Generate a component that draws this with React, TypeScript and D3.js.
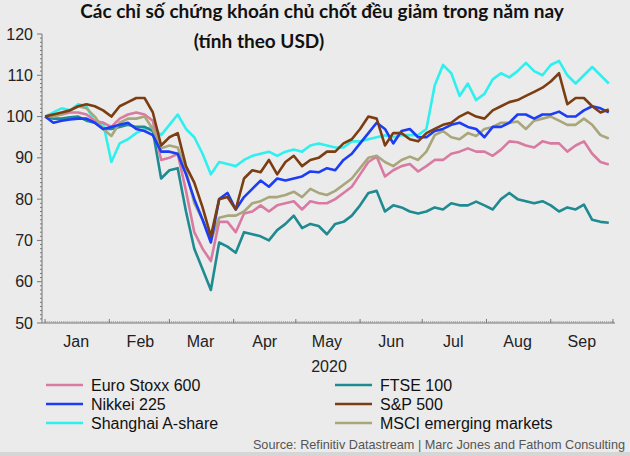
import React from "react";
import * as d3 from "d3";

const dates: string[] = [
  "2020-01-01","2020-01-05","2020-01-09","2020-01-13","2020-01-17","2020-01-21","2020-01-25","2020-01-29",
  "2020-02-02","2020-02-06","2020-02-10","2020-02-14","2020-02-18","2020-02-22","2020-02-26",
  "2020-03-01","2020-03-05","2020-03-09","2020-03-13","2020-03-17","2020-03-21","2020-03-25","2020-03-29",
  "2020-04-02","2020-04-06","2020-04-10","2020-04-14","2020-04-18","2020-04-22","2020-04-26","2020-04-30",
  "2020-05-04","2020-05-08","2020-05-12","2020-05-16","2020-05-20","2020-05-24","2020-05-28",
  "2020-06-01","2020-06-05","2020-06-09","2020-06-13","2020-06-17","2020-06-21","2020-06-25","2020-06-29",
  "2020-07-03","2020-07-07","2020-07-11","2020-07-15","2020-07-19","2020-07-23","2020-07-27","2020-07-31",
  "2020-08-04","2020-08-08","2020-08-12","2020-08-16","2020-08-20","2020-08-24","2020-08-28",
  "2020-09-01","2020-09-05","2020-09-09","2020-09-13","2020-09-17","2020-09-21","2020-09-25","2020-09-29",
];

const euroStoxx600 = [
  100,100.5,100.5,101,101,100.5,99,98.5,97.5,99.5,100.5,101,100.5,99,89.5,
  90,91,82,72,68,65,74.5,74.5,72,76.5,77,78.5,77,78.5,79,79.5,
  77.5,79.5,79,79,80,81.5,83,86,89,90.3,85.5,87,88,88.5,86.7,
  88,89.5,89.5,91,91.5,92.3,91.5,91.5,90.5,92,94,93.8,93,92.5,94,
  93.5,93.5,91.5,93,94,91,89,88.4,
];
const nikkei225 = [
  100,98.5,99,99.3,99.5,99.5,98.5,97,97.5,98,98.5,97,96.5,95.5,91.5,
  91.5,91,86,80,75,69.5,80,81.5,77.5,80.5,82.5,84.5,83,85,84.5,85,
  85.5,86.7,86.5,87.5,87,89.5,91,93.5,96,98.5,97,93.5,96.5,97,95,
  95,96.5,97,98,98.5,97.5,97,95,97.5,97.5,98.5,100.5,100.5,99.5,100.5,
  100.5,101.2,100,100,101.5,102.5,102,101,
];
const shanghaiA = [
  100,101,102,101.5,103,102.5,98.5,98.5,89,93.5,94.5,96,97,97.5,95.5,
  98,100.5,97,95,91,86,89,88.5,88,89.5,90.5,91,91.5,90.5,91.5,92,
  91.5,93,93.5,93,92.5,92.5,94,94,94.5,95,95.5,95,95.5,95.5,95.5,
  97,107.5,112.5,110.5,105,108,104,105.5,109,110.5,109.5,111,113,111,110,
  112.5,113.5,110,108,110,112,110,108,
];
const ftse100 = [
  100,99.5,99.5,99.8,100,99,98.5,97,97,97.5,98,97.5,97.5,96.5,85,
  87,87.5,77,68,63,58,69.5,68.5,67,72,71.5,71,70,72.5,74,76,
  73,74,73.5,71.5,74,74.5,76,78.5,81.5,82,77,78.5,78,77,76.5,
  77,78,77.5,79,78.5,78.5,79.4,78.5,77.5,80,81.5,80,79.5,79,79.5,
  78.5,77,78,77.5,78.7,75,74.5,74.3,
];
const sp500 = [
  100,100.5,101,101.5,102.5,103,102.5,101.5,100,102.5,103.5,104.5,104.5,101,93,
  95,96,88,84,78,71,80,80.5,77.5,85,87,86.5,89.5,86,89,90.5,
  88,89.5,90,91.5,91.5,93.5,94.5,97,100,99.5,93,96,96,94.5,94,
  96,97,98,98.5,100,101,100,99.5,101.5,102.5,103.5,104,105,106,107,
  108.5,110.5,103,104.5,104.5,102.5,101,101.7,
];
const msciEM = [
  100,100,100.5,101.5,102.5,102,100,97,95.3,98.5,99.5,99.5,100,97,92.3,
  93,92.5,87,79,75,70,75.5,76,76,77,79,79.5,80.5,80.5,81,81.8,
  80.5,82.5,81.5,81,82,83.5,85,87.5,90,90.5,89,88,89.5,90.3,89.5,
  91.5,95.5,96.5,95,94.5,96,95.3,97,97.5,98.5,98.5,98.8,97,99,99.5,
  100,99,98,98,99.5,98,95.5,94.7,
];

const seriesNames = ["Euro Stoxx 600","Nikkei 225","Shanghai A-share","FTSE 100","S&P 500","MSCI emerging markets"];
const seriesValues = [euroStoxx600, nikkei225, shanghaiA, ftse100, sp500, msciEM];
const seriesColors = ["#d97ba1","#1c3cf5","#2ff0ee","#1f8b90","#7b3e12","#a9a67c"];
const drawOrder = [2, 3, 0, 5, 1, 4];

const monthLabels = ["Jan","Feb","Mar","Apr","May","Jun","Jul","Aug","Sep"];
const yTicks = [50, 60, 70, 80, 90, 100, 110, 120];
const yearLabel = "2020";
const title = "Các chỉ số chứng khoán chủ chốt đều giảm trong năm nay";
const subtitle = "(tính theo USD)";
const source = "Source: Refinitiv Datastream | Marc Jones and Fathom Consulting";

const W = 630, H = 456;
const parse = d3.timeParse("%Y-%m-%d");

export default function App() {
  const x = d3.scaleTime()
    .domain([new Date(2019, 11, 31), new Date(2020, 9, 2)])
    .range([43, 615]);
  const y = d3.scaleLinear().domain([50, 120]).range([323, 34]);
  const xDates = dates.map((d) => parse(d) as Date);
  const line = d3.line<number>()
    .x((_, i) => x(xDates[i]))
    .y((v) => y(v));

  const minorY = d3.range(50, 121, 1);
  const days = d3.timeDay.range(new Date(2020, 0, 1), new Date(2020, 9, 2));
  const monthStarts = d3.timeMonth.range(new Date(2020, 0, 1), new Date(2020, 9, 2));
  const axisFont = "'Liberation Sans', Arial, sans-serif";
  const titleFont = "Lato, 'Open Sans', sans-serif";

  return (
    <svg width={W} height={H} style={{ position: "absolute", left: 0, top: 0, background: "#ebebeb" }}>
      <rect x={0} y={0} width={W} height={H} fill="#ebebeb" />
      <rect x={0} y={452} width={W} height={4} fill="#d6d6d6" />
      <text x={322} y={18} textAnchor="middle" fontFamily={titleFont} fontWeight={700} fontSize={19} fill="#111">{title}</text>
      <text x={259} y={48} textAnchor="middle" fontFamily={titleFont} fontWeight={700} fontSize={19} fill="#111">{subtitle}</text>

      {/* y axis */}
      <line x1={42} x2={42} y1={y(120)} y2={y(50)} stroke="#777" strokeWidth={1} />
      {minorY.map((v) => (
        <line key={"m" + v} x1={v % 10 === 0 ? 37 : 40} x2={42} y1={y(v)} y2={y(v)} stroke="#777" strokeWidth={1} />
      ))}
      {yTicks.map((v) => (
        <text key={v} x={33} y={y(v)} dy="0.35em" textAnchor="end" fontFamily={axisFont} fontSize={16} fill="#222">{v}</text>
      ))}

      {/* x axis */}
      <line x1={42} x2={615} y1={323} y2={323} stroke="#777" strokeWidth={1} />
      {days.map((d, i) => (
        <line key={"d" + i} x1={x(d)} x2={x(d)} y1={323} y2={321} stroke="#999" strokeWidth={0.8} />
      ))}
      {monthStarts.map((d, i) => (
        <line key={"ms" + i} x1={x(d)} x2={x(d)} y1={323} y2={319} stroke="#777" strokeWidth={1} />
      ))}
      {monthStarts.map((d, i) => {
        const mid = new Date(d.getFullYear(), d.getMonth(), 16);
        return (
          <text key={"ml" + i} x={x(mid)} y={347} textAnchor="middle" fontFamily={axisFont} fontSize={16} fill="#222">{monthLabels[i]}</text>
        );
      })}
      <text x={329} y={372} textAnchor="middle" fontFamily={axisFont} fontSize={16} fill="#222">{yearLabel}</text>

      {/* lines */}
      {drawOrder.map((si) => (
        <path key={seriesNames[si]} d={line(seriesValues[si]) || ""} fill="none" stroke={seriesColors[si]} strokeWidth={2.6} strokeLinejoin="round" />
      ))}

      {/* legend */}
      {seriesNames.map((n, i) => {
        const leftCol = i < 3;
        const row = leftCol ? i : i - 3;
        const lx = leftCol ? 46 : 335;
        const ly = 385 + row * 19;
        return (
          <g key={"lg" + n}>
            <line x1={lx} x2={lx + 37} y1={ly} y2={ly} stroke={seriesColors[i]} strokeWidth={2.6} />
            <text x={lx + 45} y={ly} dy="0.35em" fontFamily={axisFont} fontSize={16} fill="#111">{n}</text>
          </g>
        );
      })}
      <text x={625} y={449} textAnchor="end" fontFamily={axisFont} fontSize={12.7} fill="#555">{source}</text>
    </svg>
  );
}
